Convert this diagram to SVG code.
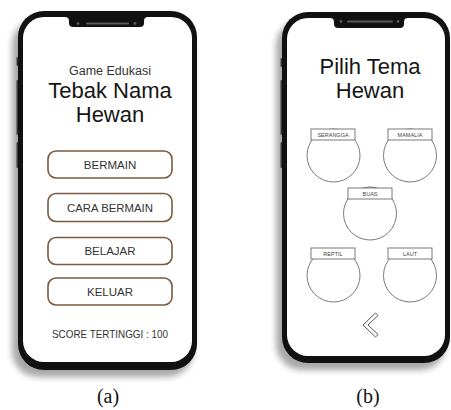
<svg xmlns="http://www.w3.org/2000/svg" width="451" height="410" viewBox="0 0 451 410">
  <defs>
    <filter id="soft" x="-20%" y="-20%" width="140%" height="140%">
      <feGaussianBlur stdDeviation="3"/>
    </filter>
    <style>
      .shadow { fill: #8a8a8a; opacity: 0.75; filter: url(#soft); }
      .frame { fill: #111111; }
      .screen { fill: #ffffff; }
      .side { fill: #3a3a3a; }
      .speaker { stroke: #5a5a5a; stroke-width: 2; stroke-linecap: round; fill: none; }
      .cam { fill: #5a5a5a; }
      .sans { font-family: "Liberation Sans", Arial, sans-serif; text-anchor: middle; }
      .title { font-size: 22px; fill: #151515; }
      .sub { font-size: 12.5px; fill: #333333; }
      .btn rect { fill: #ffffff; stroke: #7a5a40; stroke-width: 1.6; }
      .btn text { font-size: 11.5px; fill: #333333; }
      .score { font-size: 11px; fill: #333333; }
      .theme circle { fill: #ffffff; stroke: #6a6a6a; stroke-width: 0.9; }
      .theme rect { fill: #ffffff; stroke: #6a6a6a; stroke-width: 0.9; }
      .theme text { font-size: 5.5px; fill: #444444; }
      .back { fill: #ffffff; stroke: #555555; stroke-width: 1; stroke-linejoin: miter; }
      .cap { font-family: "Liberation Serif", "Times New Roman", serif; font-size: 20px; fill: #111111; text-anchor: middle; }
    </style>
  </defs>

  <rect width="451" height="410" fill="#ffffff"/>

  <!-- Phone (a): main menu -->
  <g id="phone-a">
    <rect class="shadow" x="12" y="19" width="181" height="358" rx="26"/>
    <rect class="side" x="16.5" y="57" width="2" height="9" rx="1"/>
    <rect class="side" x="16.5" y="80" width="2" height="55" rx="1"/>
    <rect class="side" x="16.5" y="142" width="2" height="26" rx="1"/>
    <rect class="frame" x="18" y="11" width="179" height="359" rx="26"/>
    <path class="screen" d="M44 17 L65 17 Q69 17 69 21 L69 23 Q69 27 73 27 L140 27 Q144 27 144 23 L144 21 Q144 17 148 17 L171 17 A21 21 0 0 1 192 38 L192 341 A21 21 0 0 1 171 362 L44 362 A21 21 0 0 1 23 341 L23 38 A21 21 0 0 1 44 17 Z"/>
    <line class="speaker" x1="87" y1="23.5" x2="128" y2="23.5"/>
    <circle class="cam" cx="78" cy="23.5" r="1.4"/>
    <circle class="cam" cx="135" cy="23.5" r="1.4"/>
  </g>

  <g id="a-heading">
    <text class="sans sub" x="110" y="75">Game Edukasi</text>
    <text class="sans title" x="110" y="98">Tebak Nama</text>
    <text class="sans title" x="110" y="122">Hewan</text>
  </g>

  <g id="btn-bermain" class="btn">
    <rect x="48" y="151" width="124" height="27" rx="8"/>
    <text class="sans" x="110" y="168.5">BERMAIN</text>
  </g>
  <g id="btn-cara-bermain" class="btn">
    <rect x="48" y="193.5" width="124" height="28" rx="8"/>
    <text class="sans" x="110" y="211.5" textLength="86" lengthAdjust="spacingAndGlyphs">CARA BERMAIN</text>
  </g>
  <g id="btn-belajar" class="btn">
    <rect x="48" y="237.5" width="124" height="27" rx="8"/>
    <text class="sans" x="110" y="255">BELAJAR</text>
  </g>
  <g id="btn-keluar" class="btn">
    <rect x="48" y="278" width="124" height="27" rx="8"/>
    <text class="sans" x="110" y="296">KELUAR</text>
  </g>

  <g id="a-score">
    <text class="sans score" x="110" y="338" textLength="116" lengthAdjust="spacingAndGlyphs">SCORE TERTINGGI : 100</text>
  </g>

  <!-- Phone (b): theme picker -->
  <g id="phone-b">
    <rect class="shadow" x="276" y="20" width="170" height="350" rx="26"/>
    <rect class="side" x="280.5" y="58" width="2" height="9" rx="1"/>
    <rect class="side" x="280.5" y="80" width="2" height="55" rx="1"/>
    <rect class="side" x="280.5" y="142" width="2" height="26" rx="1"/>
    <rect class="frame" x="282" y="12" width="168" height="351" rx="26"/>
    <path class="screen" d="M308 18 L330 18 Q334 18 334 22 L334 24 Q334 28 338 28 L400 28 Q404 28 404 24 L404 22 Q404 18 408 18 L424 18 A21 21 0 0 1 445 39 L445 335 A21 21 0 0 1 424 356 L308 356 A21 21 0 0 1 287 335 L287 39 A21 21 0 0 1 308 18 Z"/>
    <line class="speaker" x1="348" y1="21.5" x2="392" y2="21.5"/>
    <circle class="cam" cx="341" cy="21.5" r="1.4"/>
    <circle class="cam" cx="398" cy="21.5" r="1.4"/>
  </g>

  <g id="b-heading">
    <text class="sans title" x="370" y="74">Pilih Tema</text>
    <text class="sans title" x="370" y="98">Hewan</text>
  </g>

  <g id="theme-serangga" class="theme">
    <circle cx="333.5" cy="155.5" r="26.5"/>
    <rect x="311" y="129" width="44" height="11"/>
    <text class="sans" x="333" y="136.5">SERANGGA</text>
  </g>
  <g id="theme-mamalia" class="theme">
    <circle cx="410" cy="155.5" r="26.5"/>
    <rect x="388" y="129" width="44" height="11"/>
    <text class="sans" x="410" y="136.5">MAMALIA</text>
  </g>
  <g id="theme-buas" class="theme">
    <circle cx="370" cy="213.5" r="26.5"/>
    <rect x="348" y="188" width="44" height="11"/>
    <text class="sans" x="370" y="195.5">BUAS</text>
  </g>
  <g id="theme-reptil" class="theme">
    <circle cx="333.5" cy="275.5" r="26.5"/>
    <rect x="311" y="248" width="44" height="11"/>
    <text class="sans" x="333" y="255.5">REPTIL</text>
  </g>
  <g id="theme-laut" class="theme">
    <circle cx="410" cy="275.5" r="26.5"/>
    <rect x="388" y="248" width="44" height="11"/>
    <text class="sans" x="410" y="255.5">LAUT</text>
  </g>

  <g id="b-back">
    <polygon class="back" points="375.5,313 363,325 375.5,337 378,334.5 368,325 378,315.5"/>
  </g>

  <!-- Captions -->
  <text class="cap" x="108" y="403">(a)</text>
  <text class="cap" x="368" y="403">(b)</text>
</svg>
